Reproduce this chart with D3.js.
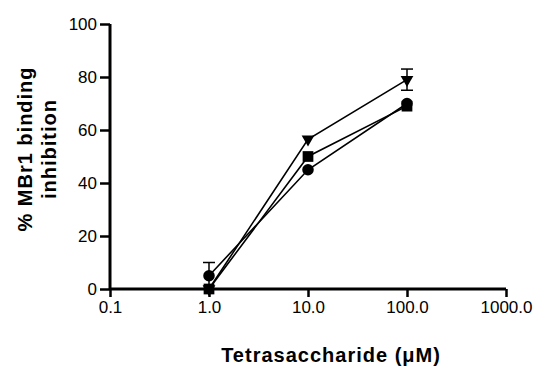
<!DOCTYPE html>
<html>
<head>
<meta charset="utf-8">
<script src="https://cdn.jsdelivr.net/npm/d3@7"></script>
<style>
  body { margin: 0; background: #fff; }
  text { font-family: "Liberation Sans", Arial, sans-serif; }
</style>
</head>
<body>
<svg id="chart" width="536" height="366"></svg>
<script>
const concentrations = [1, 10, 100];
const circleValues = [5, 45, 70];
const squareValues = [0, 50, 69];
const triangleValues = [0, 56.5, 79];
const circleErrors = [5, 0, 0];
const squareErrors = [0, 0, 0];
const triangleErrors = [0, 0, 4];
const xTicks = [0.1, 1, 10, 100, 1000];
const yTicks = [0, 20, 40, 60, 80, 100];

const margin = {"left": 110, "right": 30, "top": 24, "bottom": 77};
const width = 536, height = 366;

const svg = d3.select("#chart");

const x = d3.scaleLog()
    .domain([0.1, 1000])
    .range([margin.left, width - margin.right]);

const y = d3.scaleLinear()
    .domain([0, 100])
    .range([height - margin.bottom, margin.top]);

// Axes
const xAxis = d3.axisBottom(x).tickValues(xTicks).tickFormat(d3.format(".1f")).tickSize(8).tickPadding(4);
const yAxis = d3.axisLeft(y).tickValues(yTicks).tickFormat(d3.format("d")).tickSize(10).tickPadding(3);

const gx = svg.append("g")
    .attr("transform", `translate(0, ${y(0)})`)
    .call(xAxis);
const gy = svg.append("g")
    .attr("transform", `translate(${margin.left}, 0)`)
    .call(yAxis);

[gx, gy].forEach(function(g) {
    g.attr("font-size", 17).attr("font-family", "'Liberation Sans', Arial, sans-serif");
    g.select(".domain").attr("stroke", "#000").attr("stroke-width", 3);
    g.selectAll(".tick line").attr("stroke", "#000").attr("stroke-width", 2.5);
    g.selectAll(".tick text").attr("fill", "#000");
});
gx.select(".domain").attr("d", `M${x(0.1)},0H${x(1000)}`);
gy.select(".domain").attr("d", `M0,${y(100)}V${y(0)}`);

// Series
const series = [
    {name: "triangle", values: triangleValues, errors: triangleErrors},
    {name: "square", values: squareValues, errors: squareErrors},
    {name: "circle", values: circleValues, errors: circleErrors}
];

const line = d3.line()
    .x(function(d) { return x(d.c); })
    .y(function(d) { return y(d.v); });

series.forEach(function(s) {
    const pts = concentrations.map(function(c, i) { return {c: c, v: s.values[i], e: s.errors[i]}; });

    svg.append("path")
        .datum(pts)
        .attr("fill", "none")
        .attr("stroke", "#000")
        .attr("stroke-width", 1.6)
        .attr("d", line);

    // error bars
    pts.filter(function(d) { return d.e > 0; }).forEach(function(d) {
        const cx = x(d.c);
        const top = y(d.v + d.e), bot = y(Math.max(0, d.v - d.e));
        svg.append("line").attr("x1", cx).attr("x2", cx).attr("y1", top).attr("y2", bot)
            .attr("stroke", "#000").attr("stroke-width", 1.5);
        svg.append("line").attr("x1", cx - 6).attr("x2", cx + 6).attr("y1", top).attr("y2", top)
            .attr("stroke", "#000").attr("stroke-width", 1.5);
        if (d.v - d.e > 0 && s.name === "triangle") {
            svg.append("line").attr("x1", cx - 6).attr("x2", cx + 6).attr("y1", bot).attr("y2", bot)
                .attr("stroke", "#000").attr("stroke-width", 1.5);
        }
    });

    let sym;
    if (s.name === "circle") sym = d3.symbol().type(d3.symbolCircle).size(105);
    else if (s.name === "square") sym = d3.symbol().type(d3.symbolSquare).size(115);
    else sym = d3.symbol().type(d3.symbolTriangle).size(70);

    svg.selectAll(null)
        .data(pts)
        .enter()
        .append("path")
        .attr("d", sym)
        .attr("fill", "#000")
        .attr("transform", function(d) {
            return `translate(${x(d.c)}, ${y(d.v)})` + (s.name === "triangle" ? " rotate(180)" : "");
        });
});

// Titles
svg.append("text")
    .attr("x", 331)
    .attr("y", 362)
    .attr("text-anchor", "middle")
    .style("font-size", "20px")
    .style("font-weight", "bold")
    .style("letter-spacing", "1px")
    .text("Tetrasaccharide (\u03BCM)");

const yTitle = svg.append("text")
    .attr("transform", "translate(0, 149) rotate(-90)")
    .attr("text-anchor", "middle")
    .style("font-size", "20px")
    .style("font-weight", "bold")
    .style("letter-spacing", "1px");
yTitle.append("tspan").attr("x", 0).attr("y", 32).text("% MBr1 binding");
yTitle.append("tspan").attr("x", 0).attr("y", 56).text("inhibition");
</script>
</body>
</html>
